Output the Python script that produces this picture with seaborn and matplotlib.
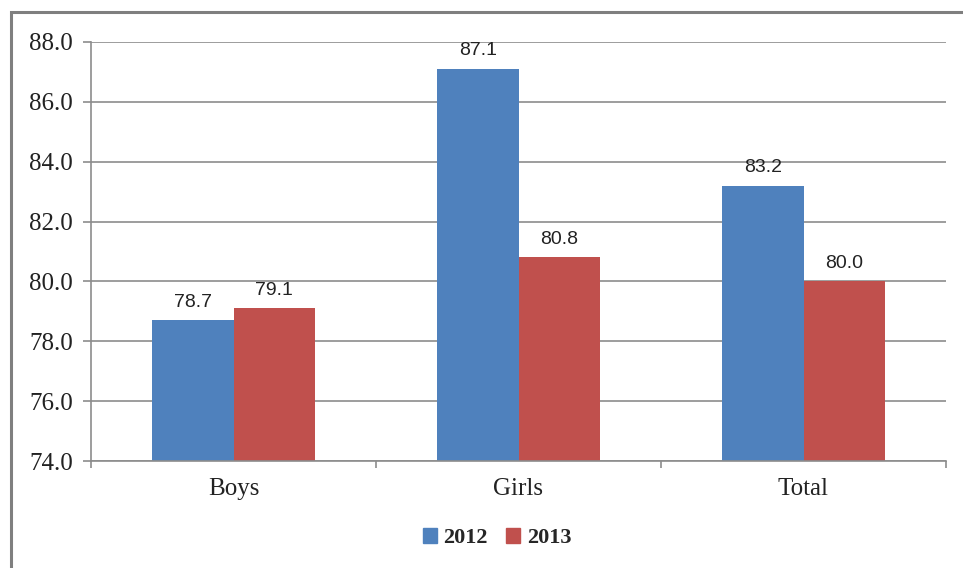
import matplotlib
matplotlib.use("Agg")
import matplotlib.pyplot as plt
from matplotlib.patches import Rectangle
import seaborn as sns
import pandas as pd

categories = ["Boys", "Girls", "Total"]
years = ["2012", "2013"]
values_2012 = [78.7, 87.1, 83.2]
values_2013 = [79.1, 80.8, 80.0]
y_ticks = [74.0, 76.0, 78.0, 80.0, 82.0, 84.0, 86.0, 88.0]

df = pd.DataFrame({
    "group": categories * 2,
    "year": [years[0]] * 3 + [years[1]] * 3,
    "value": values_2012 + values_2013,
})

sns.set_theme(style="white")
plt.rcParams["font.family"] = ["Liberation Serif", "DejaVu Serif"]

fig = plt.figure(figsize=(9.63, 5.68), dpi=100)
W, H = 963, 568
ax = fig.add_axes([91 / W, 1 - 461 / H, (946 - 91) / W, (461 - 42) / H])

palette = {"2012": "#4F81BD", "2013": "#C0504D"}
sns.barplot(data=df, x="group", y="value", hue="year", order=categories,
            hue_order=years, palette=palette, width=0.57, saturation=1,
            ax=ax, legend=False, edgecolor="none", linewidth=0)

ax.set_ylim(y_ticks[0], y_ticks[-1])
ax.set_xlim(-0.5, 2.5)
ax.set_yticks(y_ticks)
ax.set_yticklabels([f"{t:.1f}" for t in y_ticks])
ax.yaxis.grid(True, color="#8c8c8c", linewidth=1.2)
ax.set_axisbelow(True)
ax.set_xlabel("")
ax.set_ylabel("")

for side in ["top", "right"]:
    ax.spines[side].set_visible(False)
for side in ["left", "bottom"]:
    ax.spines[side].set_color("#8c8c8c")
    ax.spines[side].set_linewidth(1.2)

ax.tick_params(axis="y", which="major", left=True, length=6, width=1.2,
               color="#8c8c8c", labelsize=18, labelcolor="#222222", pad=7)
# category tick labels centred, boundary ticks between groups
ax.set_xticks([0, 1, 2])
ax.set_xticklabels(categories)
ax.tick_params(axis="x", which="major", bottom=False, labelsize=18,
               labelcolor="#222222", pad=6)
ax.set_xticks([-0.5, 0.5, 1.5, 2.5], minor=True)
ax.tick_params(axis="x", which="minor", bottom=True, length=5, width=1.2,
               color="#8c8c8c")

for container in ax.containers:
    ax.bar_label(container, fmt="%.1f", padding=7, fontsize=14,
                 color="#222222", family=["Liberation Sans", "DejaVu Sans"])

# legend
handles = [Rectangle((0, 0), 1, 1, color=palette[y]) for y in years]
leg = fig.legend(handles, years, loc="center", bbox_to_anchor=(497 / W, 1 - 538 / H),
                 ncol=2, frameon=False, prop={"weight": "bold", "size": 16},
                 handlelength=0.65, handleheight=0.65, handletextpad=0.3,
                 columnspacing=0.8)

# outer frame
fig.patches.append(Rectangle((11 / W, -0.1), 1.2, 1 - 12 / H + 0.1,
                             transform=fig.transFigure, fill=False,
                             edgecolor="#7f7f7f", linewidth=2.2))

fig.savefig("out.png", dpi=100)
